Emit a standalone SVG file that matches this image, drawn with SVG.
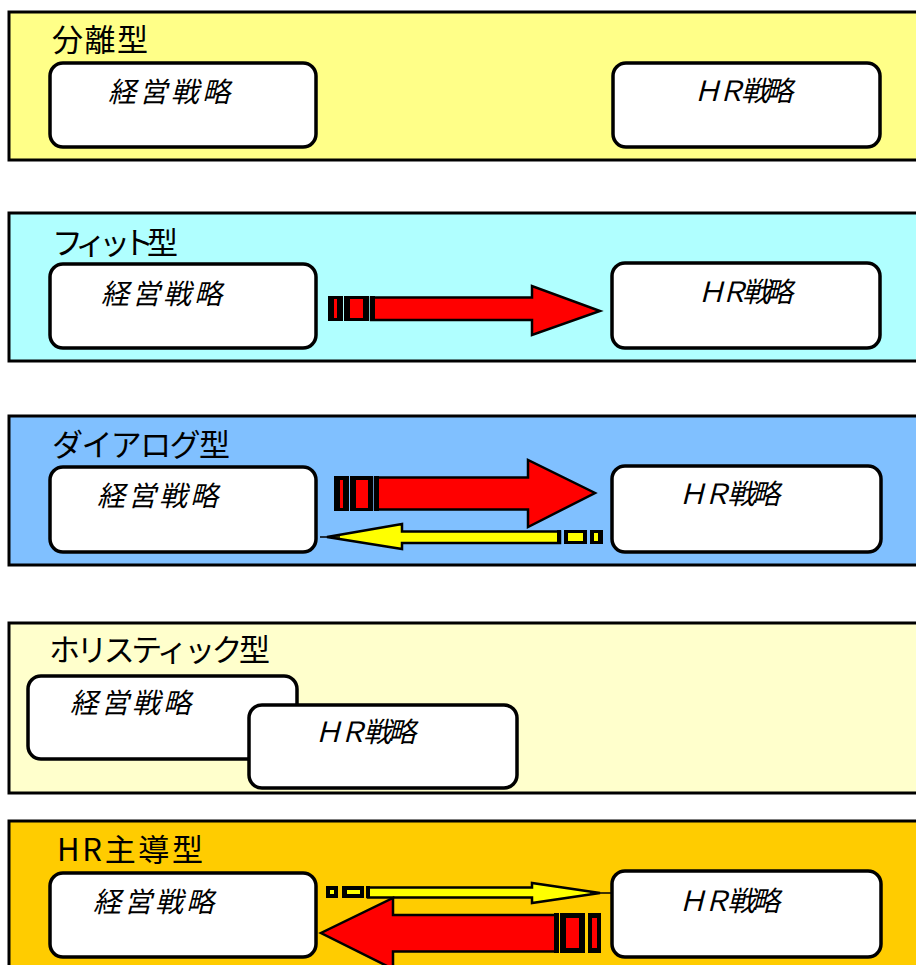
<svg xmlns="http://www.w3.org/2000/svg" width="916" height="965" viewBox="0 0 916 965">
<style>
.panel{stroke:#000;stroke-width:3}
.box{fill:#fff;stroke:#000;stroke-width:3.5}
.title{font-family:"Noto Sans CJK JP","Noto Sans",sans-serif;font-size:31px;fill:#000}
.lbl{font-family:"Noto Sans CJK JP","Noto Sans",sans-serif;font-size:28px;font-style:italic;fill:#000}
.red{fill:#f00;stroke:#000;stroke-width:2.5;stroke-linejoin:miter}
.yel{fill:#ff0;stroke:#000;stroke-width:2.5;stroke-linejoin:miter}
.blk{fill:#000}
.rf{fill:#f00}
.yf{fill:#ff0}
</style>
<rect width="916" height="965" fill="#fff"/>
<g id="panel-bunri">
<rect class="panel" x="9" y="12" width="912" height="148" fill="#ffff88"/>
<text class="title" x="52" y="51" textLength="96">分離型</text>
</g>
<g id="panel-fit">
<rect class="panel" x="9" y="213" width="912" height="148" fill="#b0ffff"/>
<text class="title" x="52" y="254" textLength="126">フィット型</text>
</g>
<g id="panel-dialog">
<rect class="panel" x="9" y="416" width="912" height="149" fill="#80c0ff"/>
<text class="title" x="52" y="456" textLength="178">ダイアログ型</text>
</g>
<g id="panel-holistic">
<rect class="panel" x="9" y="623" width="912" height="170" fill="#ffffcc"/>
<text class="title" x="49" y="661" textLength="221">ホリスティック型</text>
</g>
<g id="panel-hr">
<rect class="panel" x="9" y="821" width="912" height="160" fill="#ffcc00"/>
<text class="title" x="57" y="861" textLength="146">HR主導型</text>
</g>

<g id="bunri-keiei"><rect class="box" x="50" y="63" width="266" height="84" rx="13"/><text class="lbl" x="108" y="102" textLength="122">経営戦略</text></g>
<g id="bunri-hr"><rect class="box" x="613" y="63" width="267" height="84" rx="13"/><text class="lbl" x="693" y="101" textLength="100">ＨＲ戦略</text></g>

<g id="fit-keiei"><rect class="box" x="50" y="264" width="266" height="84" rx="13"/><text class="lbl" x="101" y="304" textLength="121">経営戦略</text></g>
<g id="fit-hr"><rect class="box" x="612" y="263" width="268" height="85" rx="13"/><text class="lbl" x="697" y="302" textLength="96">ＨＲ戦略</text></g>

<g id="dialog-keiei"><rect class="box" x="50" y="467" width="266" height="85" rx="13"/><text class="lbl" x="97" y="506" textLength="121">経営戦略</text></g>
<g id="dialog-hr"><rect class="box" x="612" y="466" width="269" height="86" rx="13"/><text class="lbl" x="678" y="504" textLength="102">ＨＲ戦略</text></g>

<g id="holistic-keiei"><rect class="box" x="28" y="676" width="269" height="83" rx="13"/><text class="lbl" x="70" y="713" textLength="121">経営戦略</text></g>
<g id="holistic-hr"><rect class="box" x="249" y="705" width="268" height="83" rx="13"/><text class="lbl" x="314" y="742" textLength="102">ＨＲ戦略</text></g>

<g id="hr-keiei"><rect class="box" x="50" y="873" width="266" height="84" rx="13"/><text class="lbl" x="93" y="912" textLength="121">経営戦略</text></g>
<g id="hr-hr"><rect class="box" x="612" y="871" width="269" height="86" rx="13"/><text class="lbl" x="678" y="911" textLength="102">ＨＲ戦略</text></g>

<g id="connectors">
<g>
<rect class="blk" x="328" y="296" width="15" height="25"/><rect class="rf" x="334" y="299" width="3" height="19"/>
<rect class="blk" x="344" y="296" width="25" height="25"/><rect class="rf" x="350" y="299" width="13" height="19"/>
<polygon class="red" points="371,297.5 532,297.5 532,286 600,311 532,335 532,320 371,320"/>
<rect class="blk" x="370" y="296" width="5" height="25"/>
</g>
<g>
<rect class="blk" x="334" y="476" width="15" height="35"/><rect class="rf" x="340" y="480" width="3" height="28"/>
<rect class="blk" x="350" y="476" width="23" height="35"/><rect class="rf" x="356" y="480" width="12" height="28"/>
<polygon class="red" points="375,477.5 528,477.5 528,460 595,493 528,527 528,509.5 375,509.5"/>
<rect class="blk" x="374" y="476" width="5" height="35"/>
</g>
<g>
<rect class="blk" x="590" y="530" width="13" height="14"/><rect class="yf" x="594" y="533" width="4" height="8"/>
<rect class="blk" x="564" y="530" width="23" height="14"/><rect class="yf" x="568" y="533" width="15" height="8"/>
<polygon class="yel" points="560,531.5 402,531.5 402,524 327,537 402,549 402,543 560,543"/>
<line x1="320" y1="537" x2="340" y2="537" stroke="#000" stroke-width="1.5"/>
<rect class="blk" x="557" y="530" width="4" height="14"/>
</g>
<g>
<rect class="blk" x="326" y="886" width="12" height="12"/><rect class="yf" x="330" y="890" width="4" height="4"/>
<rect class="blk" x="342" y="886" width="22" height="12"/><rect class="yf" x="347" y="890" width="13" height="4"/>
<polygon class="yel" points="368,887.5 532,887.5 532,883 600,893 532,903 532,897.5 368,897.5"/>
<line x1="590" y1="893" x2="613" y2="893" stroke="#000" stroke-width="1.5"/>
<rect class="blk" x="366" y="886" width="4" height="12"/>
</g>
<g>
<rect class="blk" x="588" y="913" width="13" height="40"/><rect class="rf" x="592" y="918" width="5" height="30"/>
<rect class="blk" x="560" y="913" width="25" height="40"/><rect class="rf" x="566" y="918" width="13" height="30"/>
<polygon class="red" points="557,915 393,915 393,898 321,933 393,969 393,951.5 557,951.5"/>
<rect class="blk" x="554" y="913" width="5" height="40"/>
</g>
</g>
</svg>
